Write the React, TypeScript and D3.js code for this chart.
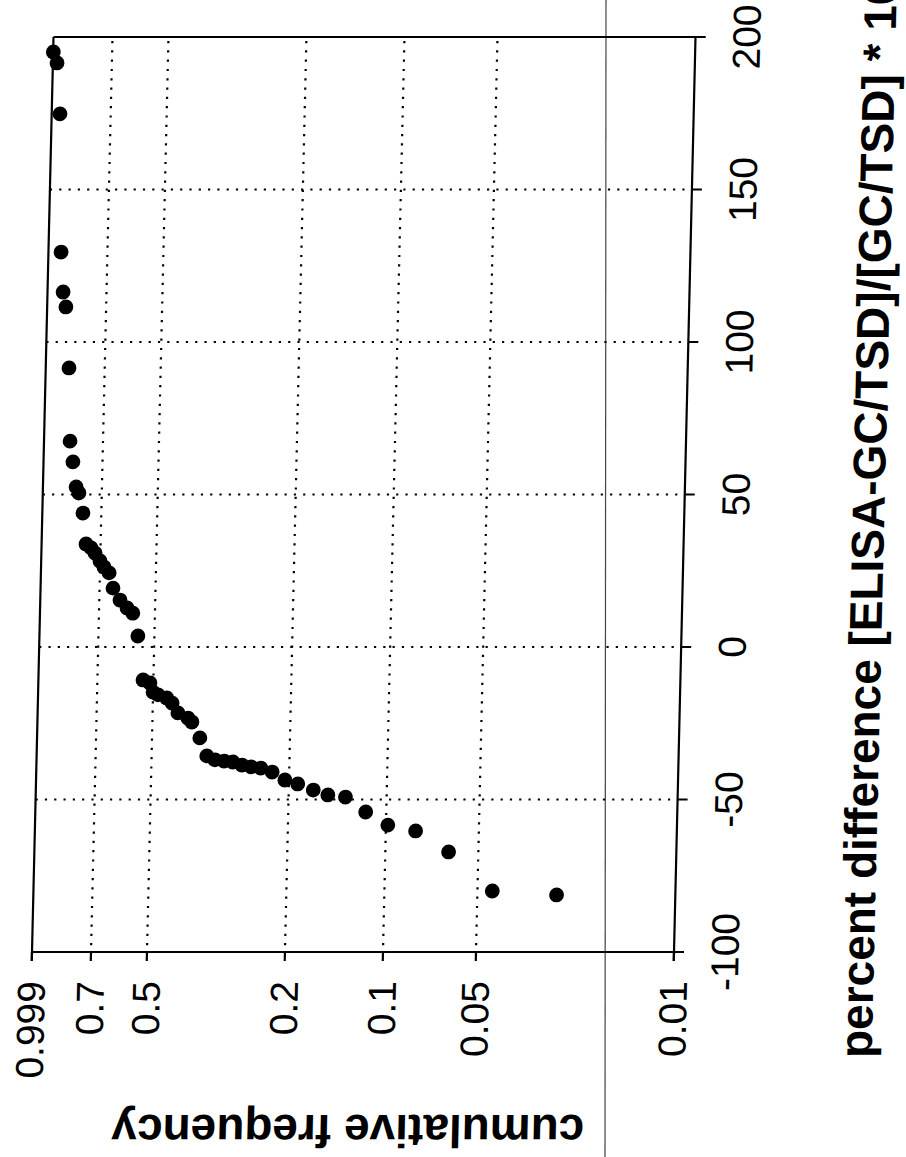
import React from 'react';
import * as d3 from 'd3';

// ---- data ----
const percentDiff = [
  195.1, 191.5, 174.8, 129.5, 116.4, 111.5, 91.5, 67.5, 60.7, 52.5,
  50.5, 43.9, 33.8, 32.5, 30.8, 28.2, 26.2, 24.3, 19.3, 15.4,
  12.8, 11.1, 3.6, -10.8, -11.8, -14.8, -15.7, -16.7, -18.4, -21.6,
  -23.3, -24.6, -29.8, -35.7, -37.0, -37.4, -37.7, -38.7, -39.3, -39.7,
  -41.0, -43.6, -44.9, -46.9, -48.5, -49.2, -54.1, -58.4, -60.3, -67.2,
  -80.0, -81.3,
];
const cumFreq = [
  0.998, 0.978, 0.957, 0.935, 0.92, 0.904, 0.881, 0.867, 0.85, 0.831,
  0.816, 0.793, 0.774, 0.748, 0.727, 0.701, 0.686, 0.667, 0.652, 0.626,
  0.6, 0.579, 0.559, 0.537, 0.512, 0.5, 0.489, 0.47, 0.458, 0.445,
  0.423, 0.414, 0.396, 0.38, 0.362, 0.342, 0.323, 0.303, 0.283, 0.262,
  0.237, 0.209, 0.191, 0.175, 0.16, 0.142, 0.121, 0.099, 0.084, 0.066,
  0.047, 0.034,
];
const percentTicks = [-100, -50, 0, 50, 100, 150, 200];
const percentGrid = [-50, 0, 50, 100, 150];
const probTicks = [0.999, 0.7, 0.5, 0.2, 0.1, 0.05, 0.01];
const probTickLabels = ['0.999', '0.7', '0.5', '0.2', '0.1', '0.05', '0.01'];
const probGrid = [0.7, 0.5, 0.2, 0.1, 0.05];
// calibration of the probability axis: relative place of each tick along the axis
const probTickFrac = [0, 0.0919, 0.1791, 0.394, 0.5467, 0.6916, 1];

const xTitle = 'percent difference [ELISA-GC/TSD]/[GC/TSD] * 100';
const yTitle = 'cumulative frequency';

export default function App() {
  const W = 906;
  const H = 1157;
  const left = 32;
  const right = 674;
  const top = 37;
  const bottom = 952;
  const font = "'Liberation Sans', Arial, Helvetica, sans-serif";

  // probability axis (horizontal on the page)
  const pScale = d3
    .scaleLinear()
    .domain(probTicks)
    .range(probTickFrac.map((f) => left + f * (right - left)));
  // percent difference axis (vertical on the page)
  const vScale = d3.scaleLinear().domain([-100, 200]).range([bottom, top]);

  const points = percentDiff.map((v, i) => ({ v, p: cumFreq[i] }));
  const skew = (Math.atan(-0.0235) * 180) / Math.PI;
  const dot = '2.2 7.1';

  return (
    <svg
      width={W}
      height={H}
      viewBox={`0 0 ${W} ${H}`}
      style={{ position: 'absolute', left: 0, top: 0, display: 'block', background: '#fff' }}
    >
      <rect x={0} y={0} width={W} height={H} fill="#fff" />
      {/* scan page edge */}
      <line x1={606} x2={605} y1={0} y2={H} stroke="#444" strokeWidth={1.2} />
      <g transform={`translate(0,${bottom}) skewX(${skew}) translate(0,${-bottom})`}>
        {/* grid */}
        {probGrid.map((p) => (
          <line
            key={'pg' + p}
            x1={pScale(p)}
            x2={pScale(p)}
            y1={top + 4}
            y2={bottom}
            stroke="#000"
            strokeWidth={2.2}
            strokeDasharray={dot}
          />
        ))}
        {percentGrid.map((v) => (
          <line
            key={'vg' + v}
            x1={left}
            x2={right}
            y1={vScale(v)}
            y2={vScale(v)}
            stroke="#000"
            strokeWidth={2.2}
            strokeDasharray={dot}
          />
        ))}
        {/* frame */}
        <line x1={left} x2={right + 10} y1={top} y2={top} stroke="#000" strokeWidth={2.2} />
        <line x1={left} x2={right + 10} y1={bottom} y2={bottom} stroke="#000" strokeWidth={2.2} />
        <line x1={left} x2={left} y1={top} y2={bottom + 9} stroke="#000" strokeWidth={2.2} />
        <line x1={right} x2={right} y1={top} y2={bottom + 9} stroke="#000" strokeWidth={2.2} />
        {/* ticks */}
        {probTicks.map((p) => (
          <line key={'pt' + p} x1={pScale(p)} x2={pScale(p)} y1={bottom} y2={bottom + 9} stroke="#000" strokeWidth={2.2} />
        ))}
        {percentTicks.map((v) => (
          <line key={'vt' + v} x1={right} x2={right + 10} y1={vScale(v)} y2={vScale(v)} stroke="#000" strokeWidth={2.2} />
        ))}
        {/* points */}
        {points.map((d, i) => (
          <circle key={i} cx={pScale(d.p)} cy={vScale(d.v)} r={7.4} fill="#000" />
        ))}
        {/* tick labels */}
        {probTicks.map((p, i) => (
          <text
            key={'pl' + p}
            x={pScale(p)}
            y={bottom + 29}
            transform={`rotate(-90, ${pScale(p)}, ${bottom + 29})`}
            textAnchor="end"
            dy="0.35em"
            fontFamily={font}
            fontSize={39}
            fill="#000"
          >
            {probTickLabels[i]}
          </text>
        ))}
        {percentTicks.map((v) => (
          <text
            key={'vl' + v}
            x={725}
            y={vScale(v)}
            transform={`rotate(-90, 725, ${vScale(v)})`}
            textAnchor="middle"
            dy="0.35em"
            fontFamily={font}
            fontSize={39}
            fill="#000"
          >
            {String(v)}
          </text>
        ))}
        {/* axis titles */}
        <text
          x={874}
          y={1058}
          transform="rotate(-90, 874, 1058)"
          textAnchor="start"
          fontFamily={font}
          fontWeight="bold"
          fontSize={46}
          fill="#000"
        >
          {xTitle}
        </text>
        <text
          x={352}
          y={1115}
          transform="rotate(180, 352, 1115)"
          textAnchor="middle"
          fontFamily={font}
          fontWeight="bold"
          fontSize={46}
          fill="#000"
        >
          {yTitle}
        </text>
      </g>
    </svg>
  );
}
